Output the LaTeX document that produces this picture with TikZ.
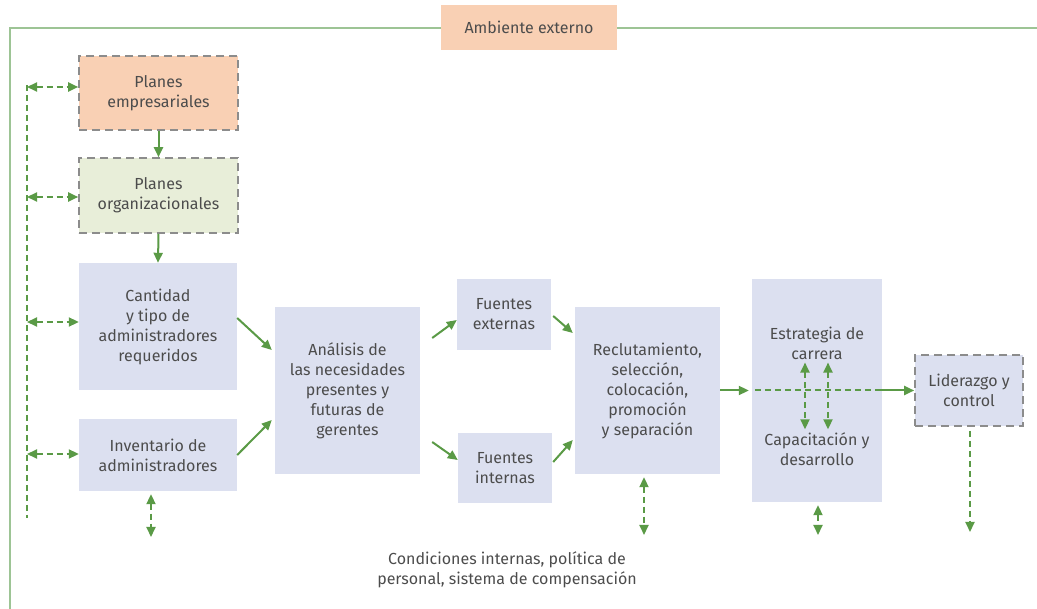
\documentclass[tikz,border=0pt]{standalone}
\usepackage{fontspec}
\setmainfont{Fira Sans}
\usetikzlibrary{arrows.meta}
\definecolor{grn}{HTML}{5A9A46}
\definecolor{frame}{HTML}{9DC495}
\definecolor{peach}{HTML}{F9D0B4}
\definecolor{lgreen}{HTML}{E8EED9}
\definecolor{bblue}{HTML}{DCE0F0}
\definecolor{txt}{HTML}{4C4C4C}
\definecolor{bord}{HTML}{8C8C8C}
\tikzset{
  box/.style={fill=bblue, text=txt, align=center, inner sep=0pt, font=\fontsize{16}{20}\selectfont},
  dbox/.style={box, draw=bord, line width=1.6pt, dash pattern=on 8pt off 5pt},
  lbl/.style={text=txt, align=center, inner sep=0pt, font=\fontsize{16}{20}\selectfont},
  arr/.style={draw=grn, line width=2pt, -{Triangle[length=10pt,width=9pt]}},
  darr/.style={draw=grn, line width=2pt, dash pattern=on 6pt off 4pt, {Triangle[length=10pt,width=9pt]}-{Triangle[length=10pt,width=9pt]}},
  dline/.style={draw=grn, line width=2pt, dash pattern=on 6pt off 4pt},
  darr1/.style={draw=grn, line width=2pt, dash pattern=on 6pt off 4pt, -{Triangle[length=10pt,width=9pt]}},
}
\begin{document}
\begin{tikzpicture}[x=1pt,y=-1pt]
\useasboundingbox (0,0) rectangle (1037,609);
% frame
\coordinate (ftl) at (10,28);
\coordinate (ftr) at (1037,28);
\coordinate (fbl) at (10,609);
\draw[frame, line width=2.2pt] (fbl) -- (ftl) -- (ftr);
\node[box, fill=peach, minimum width=176pt, minimum height=45pt] (amb) at (529,27.5) {Ambiente externo};

% left column
\node[dbox, fill=peach, minimum width=159pt, minimum height=74pt] (pemp) at (158.5,93) {Planes\\empresariales};
\node[dbox, fill=lgreen, minimum width=159pt, minimum height=75pt] (porg) at (158.5,195.5) {Planes\\organizacionales};
\node[box, minimum width=158pt, minimum height=127pt] (cant) at (158,326.5) {Cantidad\\y tipo de\\administradores\\requeridos};
\node[box, minimum width=158pt, minimum height=72pt] (inv) at (158,455) {Inventario de\\administradores};

\node[box, minimum width=145pt, minimum height=167pt] (ana) at (347.5,390.5) {Análisis de\\las necesidades\\presentes y\\futuras de\\gerentes};
\node[box, minimum width=94pt, minimum height=71pt] (fext) at (504,314.5) {Fuentes\\externas};
\node[box, minimum width=94pt, minimum height=70pt] (fint) at (505,468) {Fuentes\\internas};
\node[box, minimum width=145pt, minimum height=167pt] (rec) at (647.5,390.5) {Reclutamiento,\\selección,\\colocación,\\promoción\\y separación};
\node[box, minimum width=130pt, minimum height=223pt] (estr) at (817,390.5) {};
\node[lbl] (etxt) at (817,343) {Estrategia de\\carrera};
\node[lbl] (ctxt) at (817,449) {Capacitación y\\desarrollo};
\node[dbox, minimum width=108pt, minimum height=71pt] (lid) at (969,390.5) {Liderazgo y\\control};

\node[lbl] (cond) at (507,570) {Condiciones internas, política de\\personal, sistema de compensación};

% vertical arrows left column
\draw[arr] (pemp.south) -- (porg.north);
\draw[arr] (porg.south) -- (cant.north);

% left dashed bus
\coordinate (btop) at (27,85);
\coordinate (bbot) at (27,518);
\draw[dline] (btop) -- (bbot);
\coordinate (b1) at (27,87);
\coordinate (b2) at (27,197);
\coordinate (b3) at (27,322);
\coordinate (b4) at (27,454);
\draw[darr] (b1) -- (b1 -| pemp.west);
\draw[darr] (b2) -- (b2 -| porg.west);
\draw[darr] (b3) -- (b3 -| cant.west);
\draw[darr] (b4) -- (b4 -| inv.west);

% main flow
\draw[arr] ([yshift=8.5pt]cant.east) -- ([xshift=-3pt,yshift=40.5pt]ana.west);
\draw[arr] (inv.east) -- ([xshift=-3pt,yshift=-29.5pt]ana.west);
\draw[arr] ([xshift=12pt,yshift=52.5pt]ana.east) -- ([yshift=-5.5pt]fext.west);
\draw[arr] ([xshift=12pt,yshift=-51.5pt]ana.east) -- ([yshift=8pt]fint.west);
\draw[arr] ([xshift=2pt,yshift=-1.5pt]fext.east) -- ([xshift=-2pt,yshift=57.5pt]rec.west);
\draw[arr] ([xshift=1pt,yshift=6pt]fint.east) -- ([xshift=-2pt,yshift=-49.5pt]rec.west);

\draw[arr] (rec.east) -- ([xshift=-3pt]estr.west);
\draw[dline] ([xshift=3pt]estr.west) -- ([xshift=-4pt]estr.east);
\draw[arr] ([xshift=-4pt]estr.east) -- (lid.west);

\draw[darr] ([xshift=-12pt,yshift=-3pt]etxt.south) -- ([xshift=-12pt,yshift=3pt]ctxt.north);
\draw[darr] ([xshift=11pt,yshift=-3pt]etxt.south) -- ([xshift=11pt,yshift=3pt]ctxt.north);

% bottom arrows
\coordinate (d1) at (151,537);
\coordinate (d2) at (644,535);
\coordinate (d3) at (818,535);
\coordinate (d4) at (970,532);
\draw[darr] ([yshift=-3pt]inv.south -| d1) -- (d1);
\draw[darr] ([yshift=-3pt]rec.south -| d2) -- (d2);
\draw[darr] ([yshift=-3pt]estr.south -| d3) -- (d3);
\draw[darr1] ([yshift=-4pt]lid.south -| d4) -- (d4);
\end{tikzpicture}
\end{document}
